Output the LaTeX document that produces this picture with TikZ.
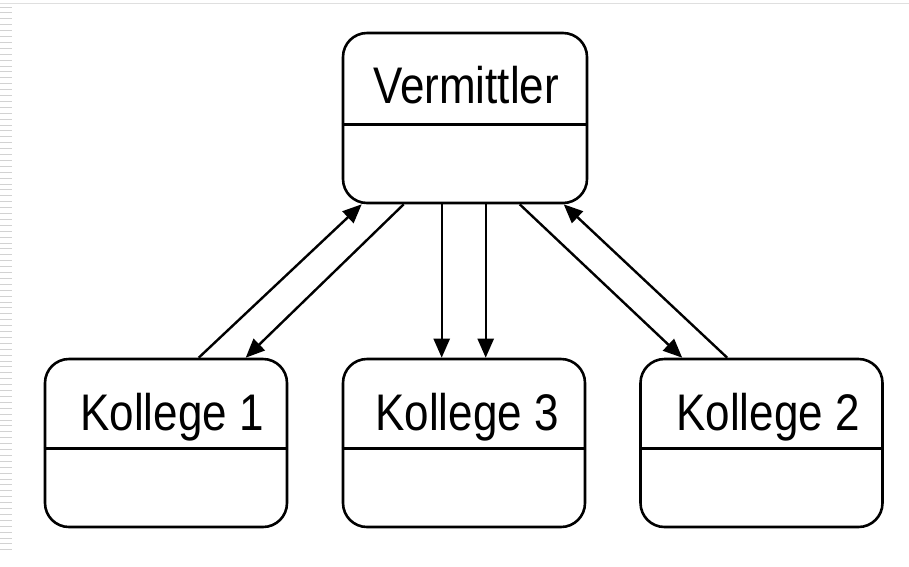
\documentclass[tikz,border=0pt]{standalone}
\usepackage{fontspec}
\setmainfont{Liberation Sans}
\usetikzlibrary{arrows.meta,calc}
\begin{document}
\begin{tikzpicture}[x=1pt,y=-1pt,
  box/.style={draw,line width=2.6pt,rounded corners=24pt,minimum width=242pt,minimum height=168pt,inner sep=0pt},
  lbl/.style={anchor=base,inner sep=0pt,font=\fontsize{44}{50}\selectfont},
  arr/.style={line width=2.4pt,-{Triangle[length=19pt,width=16pt]}},
  stripe/.style={gray!35,line width=1pt}]
\useasboundingbox (0,0) rectangle (909,566);
\draw[gray!25,line width=1pt] (0,3) -- (909,3);
\foreach \i in {0,...,92} {\draw[stripe] (0,{7+\i*5.9}) -- (12,{7+\i*5.9});}
\node[box,minimum width=244pt,minimum height=170pt] (v) at (465,118) {};
\node[box] (k1) at (166,443) {};
\node[box] (k3) at (464,443) {};
\node[box] (k2) at (761.5,443) {};
\draw[line width=2.6pt] ([yshift=-93pt]v.north west) -- ([yshift=-93pt]v.north east);
\foreach \k in {k1,k3,k2} {\draw[line width=2.6pt] ([yshift=-91pt]\k.north west) -- ([yshift=-91pt]\k.north east);}
\node[lbl] (tv) at (466,103) {\scalebox{1}[1.17]{Vermittler}};
\node[lbl] (t1) at (172,430) {\scalebox{1}[1.17]{Kollege 1}};
\node[lbl] (t3) at (467,430) {\scalebox{1}[1.17]{Kollege 3}};
\node[lbl] (t2) at (768,430) {\scalebox{1}[1.17]{Kollege 2}};
\draw[arr] ([xshift=155pt]k1.north west) -- ([xshift=20pt]v.south west);
\draw[arr] ([xshift=62pt]v.south west) -- ([xshift=202pt]k1.north west);
\draw[arr] ([xshift=100pt]v.south west) -- ([xshift=100pt]k3.north west);
\draw[arr] ([xshift=144pt]v.south west) -- ([xshift=144pt]k3.north west);
\draw[arr] ([xshift=178pt]v.south west) -- ([xshift=43pt]k2.north west);
\draw[arr] ([xshift=88pt]k2.north west) -- ([xshift=222pt]v.south west);
\end{tikzpicture}
\end{document}
